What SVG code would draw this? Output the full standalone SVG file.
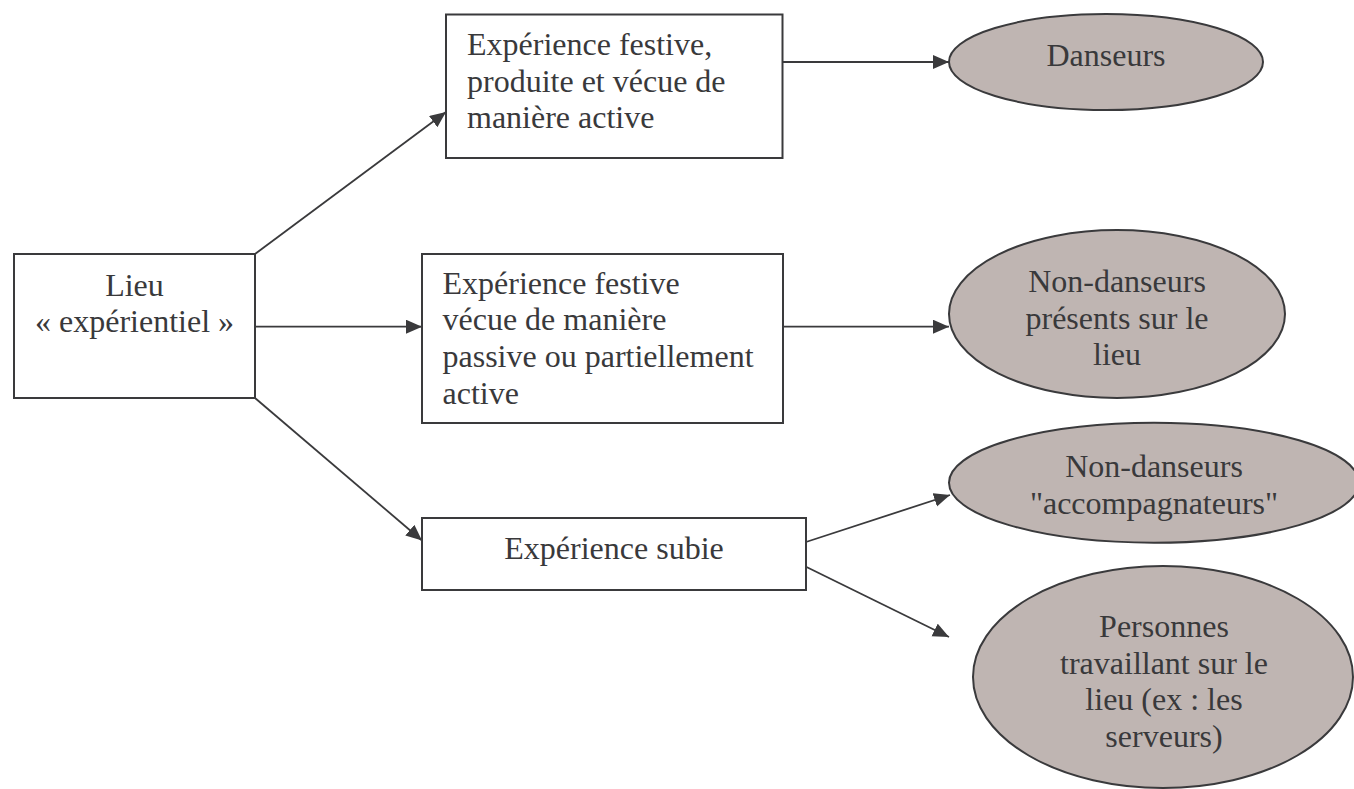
<svg xmlns="http://www.w3.org/2000/svg" width="1354" height="789" viewBox="0 0 1354 789">
<defs>
<style>
.box{fill:#ffffff;stroke:#3a3a3c;stroke-width:2}
.ell{fill:#bfb5b2;stroke:#3a3a3c;stroke-width:2}
.t{font-family:"Liberation Serif","Times New Roman",serif;font-size:32px;fill:#39393b}
.c{text-anchor:middle}
.edge{stroke:#3a3a3c;stroke-width:1.8;fill:none;marker-end:url(#arr)}
</style>
<marker id="arr" markerUnits="userSpaceOnUse" markerWidth="18" markerHeight="16" refX="16" refY="7" orient="auto">
<path d="M0,0 L16,7 L0,14 z" fill="#3a3a3c"/>
</marker>
</defs>
<rect width="1354" height="789" fill="#ffffff"/>
<g id="connectors">
<line class="edge" x1="255" y1="254" x2="446" y2="112"/>
<line class="edge" x1="255" y1="326.7" x2="422" y2="326.7"/>
<line class="edge" x1="255" y1="398" x2="422" y2="540.5"/>
<line class="edge" x1="783" y1="62" x2="949" y2="62"/>
<line class="edge" x1="783" y1="326.7" x2="949" y2="326.7"/>
<line class="edge" x1="806" y1="542" x2="950" y2="495"/>
<line class="edge" x1="806" y1="566.7" x2="949" y2="637"/>
</g>
<g id="lieu">
<rect class="box" x="14" y="254" width="241" height="144"/>
<text class="t c" x="134.5" y="295.5">Lieu</text>
<text class="t c" x="134.5" y="332.2">« expérientiel »</text>
</g>
<g id="exp-active">
<rect class="box" x="446" y="14.5" width="336.5" height="143.5"/>
<text class="t" x="467" y="55">Expérience festive,</text>
<text class="t" x="467" y="91.7">produite et vécue de</text>
<text class="t" x="467" y="128.4">manière active</text>
</g>
<g id="exp-passive">
<rect class="box" x="422" y="254" width="361" height="169"/>
<text class="t" x="442.5" y="293.5">Expérience festive</text>
<text class="t" x="442.5" y="330.2">vécue de manière</text>
<text class="t" x="442.5" y="366.9">passive ou partiellement</text>
<text class="t" x="442.5" y="403.6">active</text>
</g>
<g id="exp-subie">
<rect class="box" x="422" y="518" width="384" height="72"/>
<text class="t c" x="614" y="559">Expérience subie</text>
</g>
<g id="danseurs">
<ellipse class="ell" cx="1106" cy="62" rx="157" ry="48"/>
<text class="t c" x="1106" y="66">Danseurs</text>
</g>
<g id="non-danseurs-presents">
<ellipse class="ell" cx="1117" cy="314" rx="168" ry="84"/>
<text class="t c" x="1117" y="291.7">Non-danseurs</text>
<text class="t c" x="1117" y="328.5">présents sur le</text>
<text class="t c" x="1117" y="365.2">lieu</text>
</g>
<g id="non-danseurs-accomp">
<ellipse class="ell" cx="1154" cy="482.7" rx="205" ry="60"/>
<text class="t c" x="1154" y="476.7">Non-danseurs</text>
<text class="t c" x="1154" y="513.5">"accompagnateurs"</text>
</g>
<g id="personnes-travaillant">
<ellipse class="ell" cx="1163" cy="677" rx="190" ry="111"/>
<text class="t c" x="1164" y="636.7">Personnes</text>
<text class="t c" x="1164" y="673.5">travaillant sur le</text>
<text class="t c" x="1164" y="710.2">lieu (ex : les</text>
<text class="t c" x="1164" y="747">serveurs)</text>
</g>
</svg>
